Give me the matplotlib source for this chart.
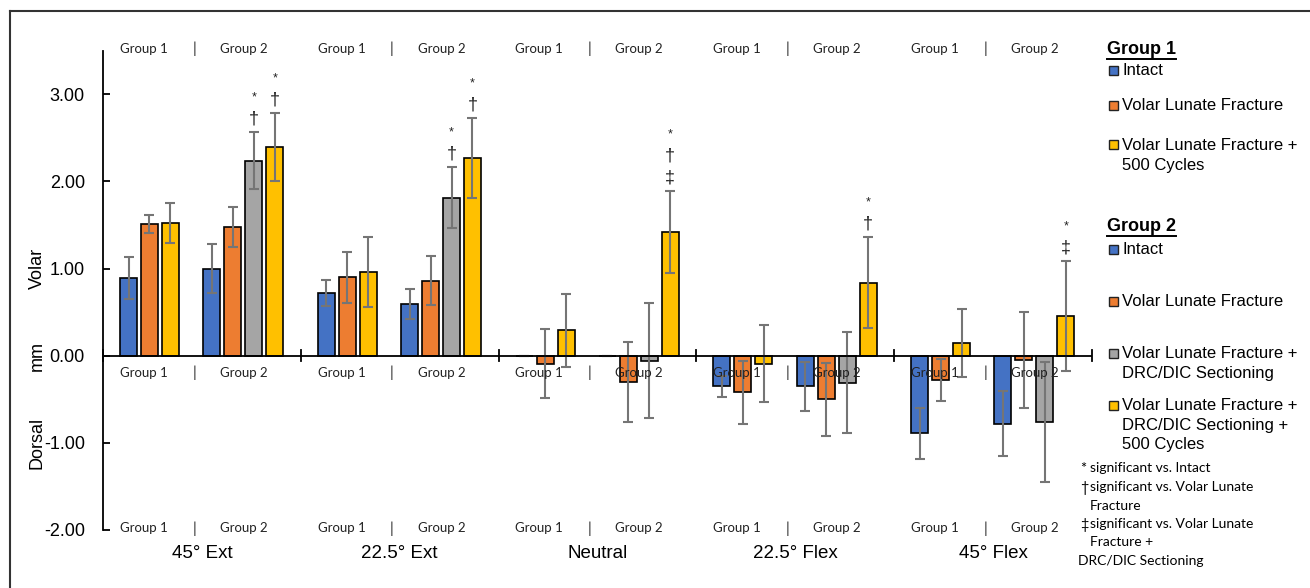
import matplotlib
matplotlib.use("Agg")
import matplotlib.pyplot as plt
from matplotlib.lines import Line2D
from matplotlib.patches import Rectangle
import numpy as np

# ---------------- data ----------------
categories = ["45° Ext", "22.5° Ext", "Neutral", "22.5° Flex", "45° Flex"]
group_names = ["Group 1", "Group 2"]

g1_intact = [0.89, 0.72, 0.00, -0.35, -0.89]
g1_intact_sd = [0.24, 0.15, 0.00, 0.12, 0.29]
g1_vlf = [1.51, 0.90, -0.09, -0.42, -0.28]
g1_vlf_sd = [0.10, 0.29, 0.40, 0.36, 0.24]
g1_vlf500 = [1.52, 0.96, 0.29, -0.09, 0.15]
g1_vlf500_sd = [0.23, 0.40, 0.42, 0.44, 0.39]

g2_intact = [1.00, 0.59, 0.00, -0.35, -0.78]
g2_intact_sd = [0.28, 0.17, 0.00, 0.28, 0.37]
g2_vlf = [1.48, 0.86, -0.30, -0.50, -0.05]
g2_vlf_sd = [0.23, 0.28, 0.46, 0.42, 0.55]
g2_sect = [2.24, 1.81, -0.06, -0.31, -0.76]
g2_sect_sd = [0.33, 0.35, 0.66, 0.58, 0.69]
g2_sect500 = [2.39, 2.27, 1.42, 0.84, 0.46]
g2_sect500_sd = [0.39, 0.46, 0.47, 0.52, 0.63]

sig_g2_sect = ["*†", "*†", "", "", ""]
sig_g2_sect500 = ["*†", "*†", "*†‡", "*†", "*‡"]

g1_labels = ["Intact", "Volar Lunate Fracture", "Volar Lunate Fracture +\n500 Cycles"]
g2_labels = ["Intact", "Volar Lunate Fracture",
             "Volar Lunate Fracture +\nDRC/DIC Sectioning",
             "Volar Lunate Fracture +\nDRC/DIC Sectioning +\n500 Cycles"]
footnotes = [("*", "significant vs. Intact"),
             ("†", "significant vs. Volar Lunate\nFracture"),
             ("‡", "significant vs. Volar Lunate\nFracture +")]
footnote_tail = "DRC/DIC Sectioning"

yticks = [-2, -1, 0, 1, 2, 3]

# ---------------- style ----------------
BLUE, ORANGE, GRAY, YELLOW = "#4472C4", "#ED7D31", "#A5A5A5", "#FFC000"
ERR = "#757575"
ARIAL = "Liberation Sans"
CALIBRI = "Lato"

W, H = 1310, 588
fig = plt.figure(figsize=(W / 100, H / 100), dpi=100)
fx = lambda x: x / W
fy = lambda y: 1 - y / H

ax = fig.add_axes([fx(103), fy(530), (1092 - 103) / W, (530 - 50.7) / H])
ax.set_xlim(0, 5)
ax.set_ylim(-2, 3.5)

bw = 0.086
series = [
    (g1_intact, g1_intact_sd, BLUE, 0.129, None),
    (g1_vlf, g1_vlf_sd, ORANGE, 0.235, None),
    (g1_vlf500, g1_vlf500_sd, YELLOW, 0.341, None),
    (g2_intact, g2_intact_sd, BLUE, 0.550, None),
    (g2_vlf, g2_vlf_sd, ORANGE, 0.656, None),
    (g2_sect, g2_sect_sd, GRAY, 0.762, sig_g2_sect),
    (g2_sect500, g2_sect500_sd, YELLOW, 0.868, sig_g2_sect500),
]
idx = np.arange(len(categories))
for vals, sds, col, off, sig in series:
    x = idx + off
    ax.bar(x, vals, width=bw, color=col, edgecolor="black", linewidth=1.2, zorder=2)
    ax.errorbar(x, vals, yerr=sds, fmt="none", ecolor=ERR, elinewidth=1.5,
                capsize=3.5, capthick=1.5, zorder=3)
    if sig:
        for xi, v, s, marks in zip(x, vals, sds, sig):
            top = v + s
            for k, m in enumerate(reversed(marks)):
                fs = 9 if m == "*" else 13
                ax.annotate(m, (xi, top), xytext=(0, 9.5 + 15.5 * k),
                            textcoords="offset points", ha="center", va="center",
                            fontsize=fs, family=ARIAL, color="#222222", zorder=5)

# zero line with category tick marks
ax.axhline(0, color="black", lw=1.3, zorder=4)
for i in range(len(categories) + 1):
    ax.plot([i, i], [-0.065, 0.065], color="black", lw=1.3, zorder=4, clip_on=False)

# spines / ticks
for s in ["top", "right", "bottom"]:
    ax.spines[s].set_visible(False)
ax.spines["left"].set_linewidth(1.3)
ax.set_xticks([])
ax.set_yticks(yticks)
ax.set_yticklabels([f"{t:.2f}" for t in yticks], fontsize=13, family=ARIAL)
ax.tick_params(axis="y", direction="in", length=5, width=1.3, pad=13)

# y label pieces
ytr = ax.get_yaxis_transform()
for txt, yv in [("Volar", 1.0), ("mm", 0.0), ("Dorsal", -1.0)]:
    ax.text(-0.0667, yv, txt, transform=ytr, rotation=90, ha="center", va="center",
            fontsize=13, family=ARIAL)

# group labels (three rows)
for i in range(len(categories)):
    for yv in [3.52, -0.195, -1.98]:
        ax.text(i + 0.206, yv, group_names[0], ha="center", va="center", fontsize=9.5,
                family=CALIBRI, color="#222222", clip_on=False, zorder=6)
        ax.text(i + 0.461, yv, "|", ha="center", va="center", fontsize=11,
                family=CALIBRI, color="#222222", clip_on=False, zorder=6)
        ax.text(i + 0.711, yv, group_names[1], ha="center", va="center", fontsize=9.5,
                family=CALIBRI, color="#222222", clip_on=False, zorder=6)
    ax.text(i + 0.5, -2.27, categories[i], ha="center", va="center", fontsize=13.5,
            family=ARIAL, clip_on=False)

# ---------------- legend ----------------
def heading(txt, y):
    t = fig.text(fx(1107), fy(y), txt, ha="left", va="center", fontsize=13,
                 fontweight="bold", family=ARIAL)
    fig.canvas.draw()
    bb = t.get_window_extent()
    fig.add_artist(Line2D([bb.x0 / W, bb.x1 / W], [fy(y + 9), fy(y + 9)],
                          color="black", lw=1.4, transform=fig.transFigure))

def entry(label, col, y):
    fig.add_artist(Rectangle((fx(1109), fy(y + 4.5)), 9 / W, 9 / H, facecolor=col,
                             edgecolor="#222222", lw=1.0, transform=fig.transFigure))
    fig.text(fx(1122), fy(y - 7), label, ha="left", va="top", fontsize=12,
             family=ARIAL, linespacing=1.38)

heading(group_names[0], 50)
for lab, col, y in zip(g1_labels, [BLUE, ORANGE, YELLOW], [70, 105, 145]):
    entry(lab, col, y)
heading(group_names[1], 227)
for lab, col, y in zip(g2_labels, [BLUE, ORANGE, GRAY, YELLOW], [249, 301, 353, 405]):
    entry(lab, col, y)

# footnotes
for (sym, txt), y in zip(footnotes, [470, 489, 526]):
    fig.text(fx(1080), fy(y - 1), sym, ha="left", va="center", fontsize=10.5,
             family=CALIBRI)
    fig.text(fx(1090), fy(y - 8), txt, ha="left", va="top", fontsize=10,
             family=CALIBRI, linespacing=1.65)
fig.text(fx(1078), fy(561), footnote_tail, ha="left", va="center", fontsize=10,
         family=CALIBRI)

# outer frame (left and top edges)
fig.add_artist(Line2D([fx(10), fx(10)], [fy(11), 0], color="#333333", lw=1.5,
                      transform=fig.transFigure))
fig.add_artist(Line2D([fx(10), 1], [fy(11), fy(11)], color="#333333", lw=1.5,
                      transform=fig.transFigure))

fig.savefig("out.png", dpi=100)
